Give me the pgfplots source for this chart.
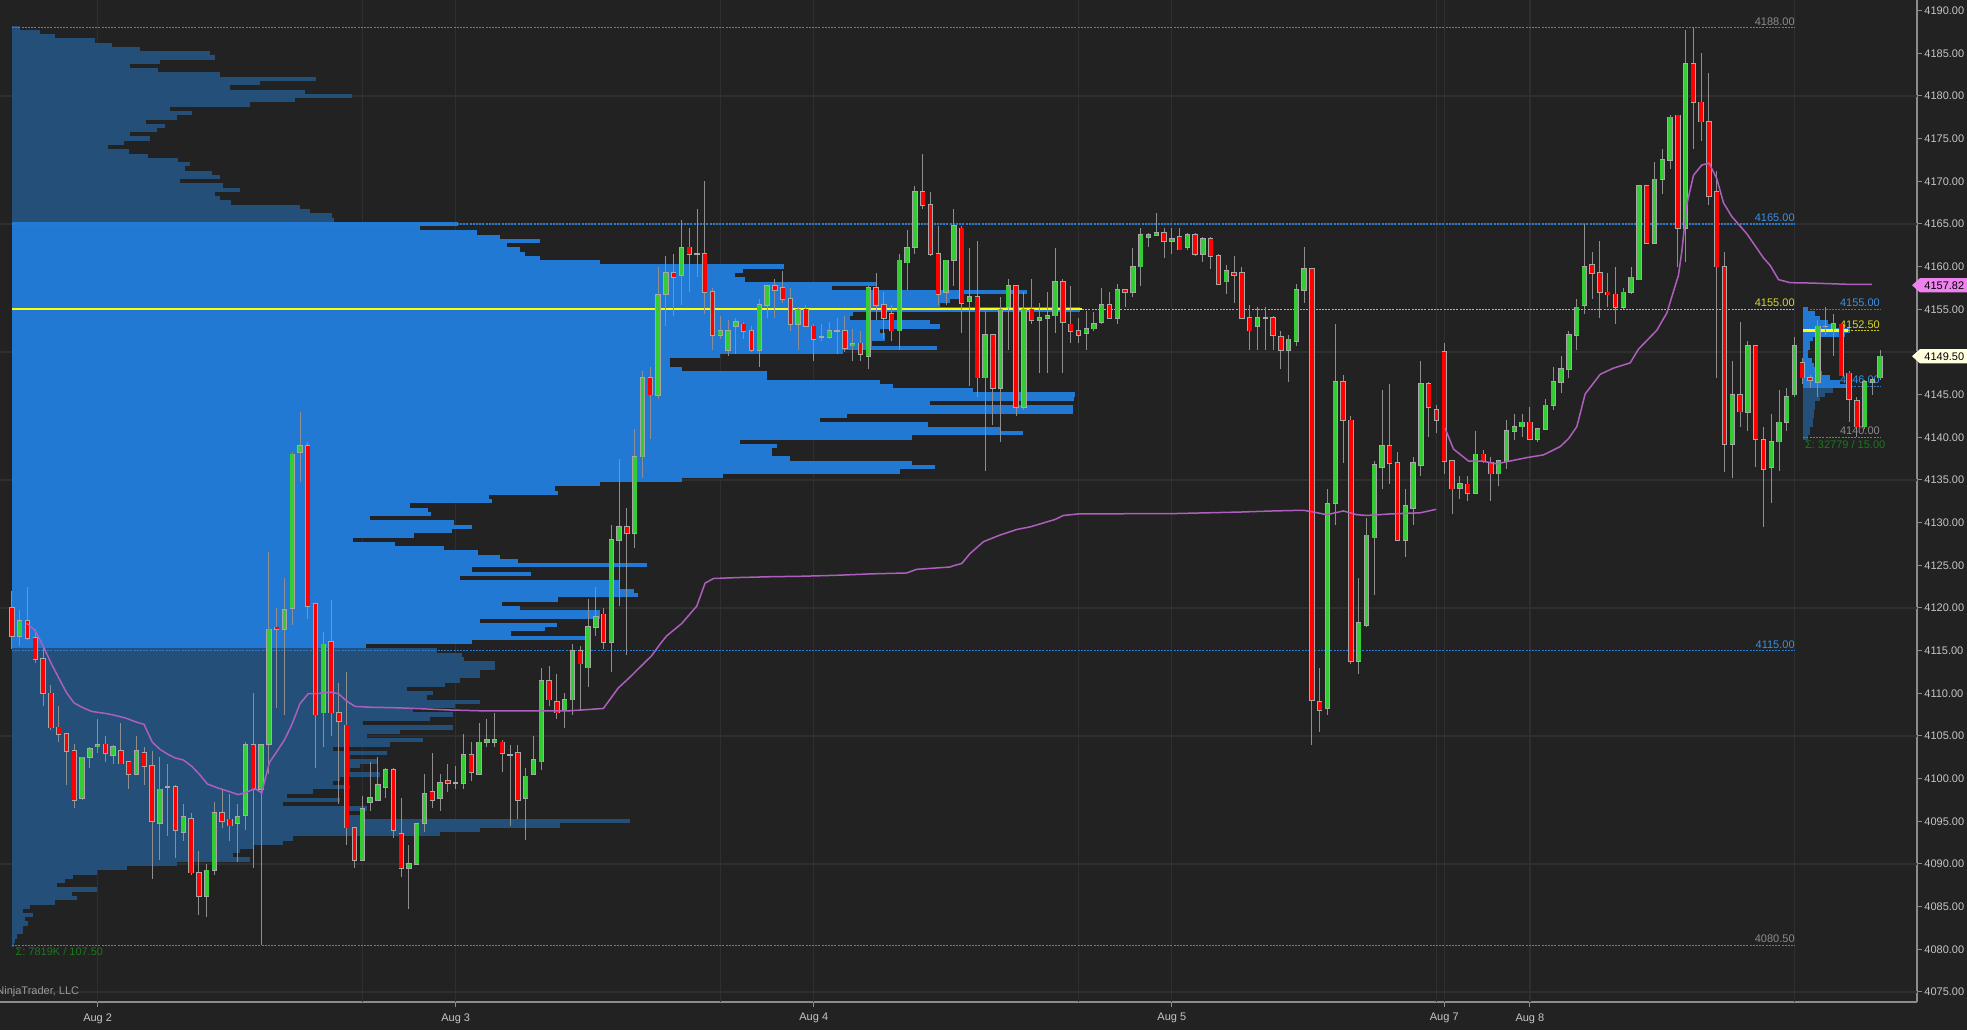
\documentclass[border=0pt]{standalone}
\usepackage{fontspec}
\setmainfont{Liberation Sans}
\usepackage{pgfplots}
\usepackage{pgfplotstable}
\pgfplotsset{compat=1.18}

\definecolor{bgc}{HTML}{222222}
\definecolor{gridc}{HTML}{2F2F2F}
\definecolor{axisc}{HTML}{8C8C8C}
\definecolor{axtext}{HTML}{C6C6C6}
\definecolor{profbright}{HTML}{2179D3}
\definecolor{profdark}{HTML}{234F79}
\definecolor{wickc}{HTML}{8E8E8E}
\definecolor{outlc}{HTML}{A8A8A8}
\definecolor{candleup}{HTML}{34CC34}
\definecolor{candledn}{HTML}{FF0000}
\definecolor{vwapc}{HTML}{AE5FBE}
\definecolor{pocc}{HTML}{FFFF00}
\definecolor{ylab}{HTML}{D8D82A}
\definecolor{ydot}{HTML}{C8C810}
\definecolor{bluel}{HTML}{2A7CD2}
\definecolor{bluelab}{HTML}{3B8FE4}
\definecolor{grayl}{HTML}{7A7A7A}
\definecolor{graylab}{HTML}{8C8C8C}
\definecolor{sigc}{HTML}{1C781C}
\definecolor{pinkm}{HTML}{EE82EE}
\definecolor{creamm}{HTML}{FFFFE0}
\definecolor{ninja}{HTML}{9A9A9A}

\newcommand{\lblfont}{\fontsize{5.5pt}{6.5pt}\selectfont}

% 30-minute OHLC bars (index, open, high, low, close)
\pgfplotstableread{
i o h l c
0 4120 4122 4115.25 4116.75
1 4116.75 4119.75 4115.5 4118.5
2 4118.5 4122.5 4116.25 4116.5
3 4116.5 4117.5 4113.5 4114
4 4114 4115.5 4108.5 4110
5 4110 4111 4105.75 4106
6 4106 4108.5 4104.25 4105.25
7 4105.25 4105.25 4099.25 4103.25
8 4103.25 4104 4096.5 4097.5
9 4097.75 4102.5 4097.5 4102.5
10 4102.5 4103.75 4101.25 4103.5
11 4103.75 4107 4103 4104
12 4104 4105 4102 4103
13 4102.75 4104 4101.75 4103.75
14 4103.25 4106.5 4101.75 4101.75
15 4102 4102 4098.75 4100.5
16 4100.5 4105 4100.5 4103.25
17 4103 4103.75 4099.25 4101.5
18 4101.5 4103.25 4088.25 4095
19 4094.75 4102.5 4090.5 4098.75
20 4099 4101.75 4093.25 4099
21 4099 4099.25 4090.75 4094
22 4093.75 4097 4092.75 4095.5
23 4095.25 4096 4088.75 4089
24 4089 4091.5 4084 4086.25
25 4086.25 4090 4083.75 4089.25
26 4089.25 4097.25 4088.75 4096
27 4096 4098.75 4094.25 4095
28 4095.25 4098.25 4092.75 4094.5
29 4094.75 4097 4090.25 4095.5
30 4095.75 4104.25 4094 4104
31 4104 4110 4089.5 4098.75
32 4098.75 4104 4080.5 4104
33 4104 4126.5 4100.5 4117.5
34 4117.75 4120 4108.25 4117.5
35 4117.5 4123.5 4107.5 4119.75
36 4120 4138.25 4118 4138
37 4138.25 4143 4134.75 4139
38 4139 4139.5 4118.75 4120.25
39 4120.5 4120.5 4101.25 4107.5
40 4107.75 4117.25 4103.75 4115.75
41 4116 4121 4105 4107.75
42 4107.75 4111.25 4097 4106.75
43 4106.25 4112.5 4092.25 4094.25
44 4094.25 4094.25 4089.5 4090.5
45 4090.5 4098 4090.5 4096.5
46 4097.25 4102 4096.25 4097.75
47 4097.5 4102.5 4097.5 4099.25
48 4099 4101.25 4097.75 4101
49 4101 4101.25 4093 4094
50 4093.5 4097.75 4088.5 4089.5
51 4089.5 4092.25 4084.75 4090
52 4090 4094.75 4090 4094.75
53 4094.75 4100.5 4093.75 4098.25
54 4098.5 4103 4096.5 4097.5
55 4097.75 4100.5 4096.25 4099.5
56 4099.75 4101.75 4098.5 4099.5
57 4099.5 4101.5 4098.75 4099.5
58 4099.5 4105.25 4098.75 4102.75
59 4102.75 4104.25 4099.75 4100.75
60 4100.5 4106.5 4100.5 4104.25
61 4104.25 4107 4103.75 4104.5
62 4104.25 4107.75 4103.75 4104.5
63 4104.25 4104.5 4100.75 4103
64 4102.75 4104 4094.5 4102.75
65 4103 4104 4095.25 4097.5
66 4097.75 4101.25 4092.75 4100.25
67 4100.5 4105 4100.5 4102.25
68 4102 4113 4101 4111.5
69 4111.5 4113.25 4108.5 4109.25
70 4109 4112.25 4107 4107.75
71 4108 4110 4106 4109.25
72 4109.25 4115.75 4107.5 4115
73 4115 4115.5 4108 4113.5
74 4113 4121 4110.75 4117.75
75 4117.75 4122.5 4116.75 4119
76 4119.25 4120 4115.25 4116
77 4116 4129.75 4112.5 4128
78 4128 4137.5 4120.25 4129.5
79 4129.5 4131.75 4114.5 4128.75
80 4128.75 4141 4127 4137.75
81 4137.75 4147.75 4135.25 4147
82 4147 4148.25 4139.75 4145
83 4145 4160 4144.5 4156.75
84 4156.75 4161.25 4153 4159.25
85 4159.25 4161.5 4154.25 4158.75
86 4159 4165.5 4155.5 4162.25
87 4162.25 4164.5 4157 4161.5
88 4161.5 4166.75 4158.75 4161.5
89 4161.5 4170 4154.5 4157
90 4157 4157.5 4150.25 4152
91 4152 4154.25 4151.5 4152.5
92 4150.25 4153.75 4149.5 4152.5
93 4153 4154 4149.75 4153.5
94 4153.25 4153.5 4151.5 4152.5
95 4152.5 4153 4150 4150.25
96 4150.25 4156.25 4148.25 4155.5
97 4155.5 4157.75 4154 4157.75
98 4157.75 4158.5 4154 4157.25
99 4157.5 4159.5 4155.75 4156.25
100 4156.25 4157.5 4152.5 4153.25
101 4153.25 4155.25 4150.25 4155
102 4155 4155.5 4153 4153
103 4153 4153.25 4149 4151.5
104 4151.75 4153.25 4151.25 4151.75
105 4151.75 4153.5 4151.5 4152.5
106 4152.5 4154 4149.75 4152.5
107 4152.5 4154.25 4150 4150.5
108 4150.75 4152.75 4149 4151
109 4151 4152.5 4149 4149.75
110 4149.5 4157.75 4148 4157.5
111 4157.5 4159.25 4153.75 4155.5
112 4155.5 4157 4151.5 4154
113 4154.5 4155.5 4151.25 4152.5
114 4152.5 4161.5 4150.25 4160.75
115 4160.5 4164.25 4157.25 4162.25
116 4162.25 4169.5 4161.5 4168.75
117 4168.75 4173.25 4166.75 4167.25
118 4167.25 4168.75 4161.25 4161.5
119 4161.5 4164.75 4155.5 4156.75
120 4157 4160.75 4155.5 4160.75
121 4160.75 4166.75 4157.75 4164.75
122 4164.5 4164.75 4152.25 4155.75
123 4156 4162.25 4146 4156.5
124 4156.5 4163 4144.75 4147
125 4147 4154.75 4136 4152
126 4152 4152 4141.5 4145.75
127 4145.75 4156.5 4139.5 4155
128 4155.25 4158.5 4150.25 4157.75
129 4157.75 4157.75 4142.5 4143.5
130 4143.5 4157 4143.25 4155
131 4155 4158.5 4153.25 4153.75
132 4153.75 4155.75 4147.5 4154
133 4154 4157 4147.5 4154.25
134 4154.25 4162.25 4152.25 4158.25
135 4158.25 4158.5 4147.5 4153.5
136 4153.25 4157.75 4151 4152.5
137 4152.5 4154 4151 4152
138 4152.25 4154.75 4150.25 4152.75
139 4152.75 4154.75 4152.5 4153.25
140 4153.5 4157.5 4153.25 4155.5
141 4155.5 4157 4154 4154
142 4154 4158 4153.25 4157.25
143 4157.25 4157.25 4155.25 4157
144 4157 4162.25 4156.5 4160
145 4160 4164.5 4157.75 4163.75
146 4163.5 4164 4162.25 4163.75
147 4163.75 4166.25 4163.75 4164
148 4164 4164.5 4161 4163
149 4163 4164.5 4161.5 4163.25
150 4163.5 4164.5 4162 4162
151 4162.25 4164 4162 4163.75
152 4163.75 4164 4161.25 4161.5
153 4161.5 4163.5 4160.5 4163.25
154 4163.25 4163.5 4159.75 4161.25
155 4161.25 4161.5 4158 4158
156 4158.25 4160.25 4156.75 4159.5
157 4159.25 4161.25 4155.75 4159
158 4159.25 4160 4154 4154
159 4154 4155.5 4150.25 4152.5
160 4153 4155.25 4150.25 4154
161 4154 4155.25 4150.25 4154
162 4154 4154.25 4150.25 4152
163 4151.75 4152.5 4148 4150.25
164 4150.25 4152 4146.5 4151.5
165 4151.25 4158 4150.75 4157.25
166 4157.25 4162.25 4155.75 4159.75
167 4159.75 4159.75 4104 4109.25
168 4109 4113 4105.5 4108
169 4108.25 4134 4107.5 4132.25
170 4132.25 4153.25 4129.75 4146.5
171 4146.5 4147.25 4137 4142
172 4142 4142.5 4113.5 4113.75
173 4113.75 4123.5 4112.25 4118.25
174 4118 4130.5 4117.75 4128.5
175 4128.25 4137.25 4121.5 4136.75
176 4136.5 4145.5 4134 4139
177 4139 4146.25 4134.5 4137
178 4137 4138.25 4128 4128
179 4128 4134 4126 4132
180 4131.75 4137.75 4129.75 4137
181 4136.75 4149 4135.5 4146.25
182 4146.25 4146.5 4140 4143.5
183 4143.25 4143.75 4140.5 4142
184 4150 4151 4135.75 4137.25
185 4137.25 4137.25 4131 4134
186 4134 4135.5 4132.75 4134.5
187 4134.5 4135.5 4132.5 4133.5
188 4133.5 4140.75 4133.5 4138
189 4138 4138.5 4137 4137.25
190 4137 4137.75 4132.5 4135.75
191 4135.75 4137.25 4134.25 4137.25
192 4137.25 4142 4136.25 4140.75
193 4140.75 4142.75 4139.75 4141.25
194 4141.25 4142.75 4140 4141.75
195 4141.75 4143.5 4139.75 4139.75
196 4139.75 4141 4139.5 4141
197 4141 4144.5 4141 4143.75
198 4143.75 4148.25 4143.25 4146.5
199 4146.5 4149.5 4145.25 4148
200 4148 4152.5 4147 4152
201 4152 4156.25 4150.25 4155.25
202 4155.5 4165 4154.5 4160
203 4160.25 4161.75 4156.25 4159.25
204 4159.25 4163 4154 4157
205 4157 4159.25 4155.25 4156.75
206 4156.75 4160 4153.25 4155.25
207 4155.25 4157.5 4155 4157
208 4157 4160 4156.75 4158.75
209 4158.5 4169.5 4158.5 4169.5
210 4169.5 4169.5 4162.75 4162.75
211 4162.75 4172.25 4162.75 4170.25
212 4170.25 4173.75 4168.5 4172.5
213 4172.5 4177.75 4171.5 4177.5
214 4177.75 4177.75 4160 4164.5
215 4164.5 4187.75 4160.5 4183.75
216 4183.75 4188 4173.75 4179.25
217 4179.25 4185 4174.75 4177
218 4177 4182.75 4167.25 4168.25
219 4168.75 4171.25 4147 4160
220 4160 4161.75 4136 4139.25
221 4139.25 4149 4135.25 4145
222 4145 4153.5 4141.25 4143
223 4143 4151.25 4140.75 4150.75
224 4150.75 4150.75 4136.5 4139.75
225 4139.75 4141.25 4129.5 4136.25
226 4136.5 4142.75 4132.25 4139.5
227 4139.5 4145.5 4136 4141.75
228 4141.75 4145.75 4140.75 4144.75
229 4145 4151.75 4144.75 4150.75
230 4148.75 4149.25 4146.25 4147
231 4147 4147.25 4145.75 4146.75
232 4146.5 4153.75 4144.75 4153
233 4153 4155.25 4152 4153
234 4152.75 4154.5 4149.5 4153.25
235 4153.25 4153.25 4147.25 4147.25
236 4147.5 4147.75 4141.75 4144.5
237 4144.25 4144.75 4140 4141.25
238 4141.25 4146.75 4141 4146.5
239 4146.5 4147 4145 4146.75
240 4147 4150.25 4146.75 4149.5
}\candles

% composite volume profile (price, bar length)
\pgfplotstableread{
p len
4188.0 8
4187.5 28
4187.0 43
4186.5 83
4186.0 100
4185.5 128
4185.0 198
4184.5 203
4184.0 148
4183.5 118
4183.0 146
4182.5 208
4182.0 304
4181.5 248
4181.0 218
4180.5 293
4180.0 340
4179.5 283
4179.0 238
4178.5 158
4178.0 180
4177.5 165
4177.0 134
4176.5 153
4176.0 145
4175.5 118
4175.0 138
4174.5 112
4174.0 96
4173.5 117
4173.0 136
4172.5 166
4172.0 178
4171.5 173
4171.0 200
4170.5 208
4170.0 168
4169.5 211
4169.0 228
4168.5 203
4168.0 208
4167.5 219
4167.0 288
4166.5 298
4166.0 320
4165.5 322
4165.0 446
4164.5 408
4164.0 465
4163.5 488
4163.0 528
4162.5 495
4162.0 508
4161.5 513
4161.0 528
4160.5 588
4160.0 772
4159.5 731
4159.0 723
4158.5 733
4158.0 865
4157.5 820
4157.0 1015
4156.5 950
4156.0 938
4155.5 928
4155.0 1068
4154.5 841
4154.0 838
4153.5 918
4153.0 928
4152.5 868
4152.0 873
4151.5 873
4151.0 860
4150.5 925
4150.0 831
4149.5 708
4149.0 658
4148.5 658
4148.0 670
4147.5 755
4147.0 755
4146.5 868
4146.0 881
4145.5 961
4145.0 1063
4144.5 1062
4144.0 918
4143.5 1061
4143.0 1061
4142.5 835
4142.0 808
4141.5 916
4141.0 988
4140.5 1011
4140.0 900
4139.5 728
4139.0 765
4138.5 760
4138.0 760
4137.5 778
4137.0 900
4136.5 923
4136.0 888
4135.5 711
4135.0 670
4134.5 588
4134.0 543
4133.5 546
4133.0 477
4132.5 480
4132.0 398
4131.5 416
4131.0 419
4130.5 358
4130.0 442
4129.5 460
4129.0 440
4128.5 402
4128.0 341
4127.5 383
4127.0 432
4126.5 466
4126.0 488
4125.5 506
4125.0 635
4124.5 460
4124.0 519
4123.5 448
4123.0 608
4122.5 608
4122.0 622
4121.5 626
4121.0 546
4120.5 490
4120.0 508
4119.5 588
4119.0 588
4118.5 468
4118.0 545
4117.5 533
4117.0 499
4116.5 573
4116.0 460
4115.5 354
4115.0 425
4114.5 450
4114.0 452
4113.5 483
4113.0 483
4112.5 468
4112.0 468
4111.5 448
4111.0 433
4110.5 395
4110.0 421
4109.5 415
4109.0 468
4108.5 443
4108.0 401
4107.5 441
4107.0 418
4106.5 351
4106.0 441
4105.5 388
4105.0 355
4104.5 411
4104.0 378
4103.5 321
4103.0 375
4102.5 338
4102.0 365
4101.5 348
4101.0 338
4100.5 368
4100.0 328
4099.5 321
4099.0 338
4098.5 301
4098.0 275
4097.5 328
4097.0 271
4096.5 355
4096.0 335
4095.5 348
4095.0 618
4094.5 548
4094.0 468
4093.5 428
4093.0 281
4092.5 271
4092.0 241
4091.5 228
4091.0 221
4090.5 238
4090.0 165
4089.5 115
4089.0 85
4088.5 61
4088.0 53
4087.5 45
4087.0 85
4086.5 60
4086.0 65
4085.5 43
4085.0 18
4084.5 11
4084.0 21
4083.5 13
4083.0 16
4082.5 11
4082.0 11
4081.5 5
4081.0 3
4080.5 2
}\bigprof

% last-session volume profile
\pgfplotstableread{
p len
4155.0 5
4154.5 12
4154.0 17
4153.5 25
4153.0 32
4152.5 47
4152.0 42
4151.5 10
4151.0 7
4150.5 7
4150.0 5
4149.5 5
4149.0 9
4148.5 11
4148.0 15
4147.5 19
4147.0 27
4146.5 37
4146.0 43
4145.5 30
4145.0 22
4144.5 17
4144.0 12
4143.5 12
4143.0 11
4142.5 11
4142.0 10
4141.5 10
4141.0 7
4140.5 7
4140.0 5
}\smallprof

\pgfplotstableread{
i p
1.88 4118.21
2.96 4117.37
4.03 4115.49
5.10 4113.39
6.17 4111.51
7.02 4110.05
7.97 4108.87
9.16 4108.29
10.24 4107.87
12.16 4107.62
13.23 4107.41
14.52 4107.12
16.02 4106.61
16.96 4106.36
18.03 4104.27
19.01 4103.43
20.09 4102.81
20.94 4102.43
22.01 4102.18
23.08 4101.46
24.16 4100.42
25.10 4099.37
26.30 4098.95
28.01 4098.45
29.08 4098.12
30.15 4098.41
31.22 4098.83
32.08 4098.33
33.06 4101.88
34.00 4103.14
34.99 4104.52
35.93 4106.28
37.00 4108.79
38.07 4109.96
39.14 4109.96
40.86 4110.13
41.93 4109.96
43.00 4109.08
44.07 4108.46
46.00 4108.37
49.85 4108.29
53.28 4108.16
56.27 4108.04
60.13 4107.95
63.13 4107.95
67.41 4107.95
71.69 4107.95
75.97 4108.22
77.90 4110.64
79.19 4111.72
80.69 4113.07
82.18 4114.41
83.25 4115.76
84.11 4116.73
86.04 4118.18
87.97 4120.22
89.04 4122.91
90.11 4123.45
93.10 4123.56
97.39 4123.66
101.67 4123.72
105.95 4123.83
110.23 4123.99
114.94 4124.10
116.23 4124.53
120.51 4124.80
120.94 4124.95
122.01 4125.21
123.08 4126.38
124.80 4127.77
126.94 4128.55
129.08 4129.20
130.79 4129.50
132.08 4129.85
134.00 4130.37
135.07 4130.84
137.00 4131.02
140.64 4131.02
144.93 4131.06
149.21 4131.06
153.49 4131.15
157.77 4131.24
162.06 4131.37
165.91 4131.45
166.98 4131.28
168.91 4130.93
171.05 4131.37
172.76 4130.93
174.05 4130.84
177.04 4131.02
180.90 4131.15
182.96 4131.56
}\vwapa

\pgfplotstableread{
i p
184.11 4141.05
185.18 4138.63
187.11 4137.22
188.82 4137.22
190.75 4136.89
192.46 4137.22
194.60 4137.62
196.75 4137.94
198.89 4138.91
199.96 4139.84
201.03 4141.25
202.10 4145.08
204.03 4147.38
205.74 4148.11
207.88 4148.72
208.95 4150.33
211.31 4152.55
212.59 4154.57
214.09 4159.01
214.52 4161.83
215.16 4167.30
216.02 4170.71
217.09 4171.92
218.03 4172.12
219.01 4170.31
219.87 4167.48
220.94 4165.87
222.87 4163.85
225.01 4161.02
225.87 4160.14
226.94 4158.48
228.44 4158.12
231.01 4158.08
233.58 4158.00
236.15 4157.92
238.94 4157.92
}\vwapb

\begin{document}
\begin{tikzpicture}
\useasboundingbox (0,0) rectangle (983.5pt,515pt);
\fill[bgc] (0,0) rectangle (983.5pt,515pt);
\begin{axis}[
  at={(0pt,14pt)}, anchor=south west,
  width=958.5pt, height=501pt, scale only axis,
  xmin=-1.5416, xmax=244.73, ymin=4073.82, ymax=4191.25,
  clip mode=individual,
  axis x line*=bottom, axis y line*=right,
  axis line style={-, draw=axisc, line width=0.8pt},
  ytick={4075,4080,4085,4090,4095,4100,4105,4110,4115,4120,4125,4130,4135,4140,4145,4155,4160,4165,4170,4175,4180,4185,4190},
  xtick={11,57,103,149,184,195},
  xticklabels={Aug 2,Aug 3,Aug 4,Aug 5,Aug 7,Aug 8},
  scaled y ticks=false,
  tick align=outside,
  major tick length=2.5pt,
  tick style={draw=axisc, line width=0.5pt},
  ticklabel style={font=\lblfont, text=axtext},
  /pgf/number format/assume math mode=true,
  yticklabel style={/pgf/number format/fixed, /pgf/number format/fixed zerofill,
     /pgf/number format/precision=2, /pgf/number format/1000 sep={}, inner sep=1pt},
  xticklabel style={inner sep=1pt, yshift=-2pt},
  extra y ticks={4075,4090,4105,4120,4135,4150,4165,4180},
  extra y tick labels={},
  extra y tick style={grid=major, major tick length=0pt, major grid style={draw=gridc, line width=0.6pt}},
  extra x ticks={11,45,57,91,103,137,149,183,184,195,229},
  extra x tick labels={},
  extra x tick style={grid=major, major tick length=0pt, major grid style={draw=gridc, line width=0.6pt}},
]
% composite profile
\addplot[draw=none, forget plot, restrict y to domain=4165.25:4200,
  error bars/.cd, x dir=both, x explicit, error mark=none,
  error bar style={draw=profdark, line width=2.2pt}]
  table[x expr={\thisrow{len}/15.568}, y=p, x error expr={\thisrow{len}/15.568}] \bigprof;
\addplot[draw=none, forget plot, restrict y to domain=4115.25:4165.25,
  error bars/.cd, x dir=both, x explicit, error mark=none,
  error bar style={draw=profbright, line width=2.2pt}]
  table[x expr={\thisrow{len}/15.568}, y=p, x error expr={\thisrow{len}/15.568}] \bigprof;
\addplot[draw=none, forget plot, restrict y to domain=4000:4115.25,
  error bars/.cd, x dir=both, x explicit, error mark=none,
  error bar style={draw=profdark, line width=2.2pt}]
  table[x expr={\thisrow{len}/15.568}, y=p, x error expr={\thisrow{len}/15.568}] \bigprof;
% session profile
\addplot[draw=none, forget plot, restrict y to domain=4145.75:4160,
  error bars/.cd, x dir=both, x explicit, error mark=none,
  error bar style={draw=profbright, line width=2.2pt}]
  table[x expr={230.1+\thisrow{len}/15.568}, y=p, x error expr={\thisrow{len}/15.568}] \smallprof;
\addplot[draw=none, forget plot, restrict y to domain=4130:4145.75,
  error bars/.cd, x dir=both, x explicit, error mark=none,
  error bar style={draw=profdark, line width=2.2pt}]
  table[x expr={230.1+\thisrow{len}/15.568}, y=p, x error expr={\thisrow{len}/15.568}] \smallprof;

% profile levels
\addplot[grayl, line width=0.5pt, dash pattern=on 1pt off 0.6pt] coordinates {(0,4188) (229.06,4188)};
\addplot[bluel, line width=0.6pt, dash pattern=on 1pt off 0.6pt] coordinates {(0,4165) (229.06,4165)};
\addplot[pocc, line width=1.1pt] coordinates {(0,4155) (137.46,4155)};
\addplot[ydot, line width=0.6pt, dash pattern=on 1pt off 0.6pt] coordinates {(137.46,4155) (229.06,4155)};
\addplot[bluel, line width=0.6pt, dash pattern=on 1pt off 0.6pt] coordinates {(0,4115) (229.06,4115)};
\addplot[grayl, line width=0.5pt, dash pattern=on 1pt off 0.6pt] coordinates {(0,4080.5) (229.06,4080.5)};
\addplot[bluel, line width=0.6pt, dash pattern=on 1pt off 0.6pt] coordinates {(230.1,4155) (240.0,4155)};
\addplot[pocc, line width=1.2pt] coordinates {(230.1,4152.5) (235.9,4152.5)};
\addplot[ydot, line width=0.6pt, dash pattern=on 1pt off 0.6pt] coordinates {(235.9,4152.5) (240.0,4152.5)};
\addplot[bluel, line width=0.6pt, dash pattern=on 1pt off 0.6pt] coordinates {(230.1,4146) (240.0,4146)};
\addplot[grayl, line width=0.5pt, dash pattern=on 1pt off 0.6pt] coordinates {(230.1,4140) (240.0,4140)};

\begin{scope}[every node/.style={font=\lblfont, inner sep=0pt, anchor=south east, yshift=1pt}]
\node[text=graylab] at (axis cs:229.06,4188) {4188.00};
\node[text=bluelab] at (axis cs:229.06,4165) {4165.00};
\node[text=ylab] at (axis cs:229.06,4155) {4155.00};
\node[text=bluelab] at (axis cs:229.06,4115) {4115.00};
\node[text=graylab] at (axis cs:229.06,4080.5) {4080.50};
\node[text=bluelab] at (axis cs:240.0,4155) {4155.00};
\node[text=ylab] at (axis cs:240.0,4152.5) {4152.50};
\node[text=bluelab] at (axis cs:240.0,4146) {4146.00};
\node[text=graylab] at (axis cs:240.0,4140) {4140.00};
\end{scope}
\node[font=\lblfont, inner sep=0pt, anchor=north west, text=sigc, yshift=-1.2pt] at (axis cs:0.4,4080.5) {Σ: 7819K / 107.50};
\node[font=\lblfont, inner sep=0pt, anchor=north west, text=sigc, yshift=-1.2pt] at (axis cs:230.3,4140) {Σ: 32779 / 15.00};

% candles: wicks
\addplot[draw=none, forget plot,
  error bars/.cd, y dir=both, y explicit, error mark=none,
  error bar style={draw=wickc, line width=0.5pt}]
  table[x=i, y expr={(\thisrow{h}+\thisrow{l})/2}, y error expr={(\thisrow{h}-\thisrow{l})/2}] \candles;
% body outlines
\addplot[draw=none, forget plot,
  error bars/.cd, y dir=both, y explicit, error mark=none,
  error bar style={draw=outlc, line width=2.7pt}]
  table[x=i, y expr={(\thisrow{o}+\thisrow{c})/2}, y error expr={abs(\thisrow{o}-\thisrow{c})/2+0.09}] \candles;
% up bodies (zero length when the bar closed lower)
\addplot[draw=none, forget plot,
  error bars/.cd, y dir=both, y explicit, error mark=none,
  error bar style={draw=candleup, line width=1.9pt}]
  table[x=i, y expr={(\thisrow{o}+\thisrow{c})/2}, y error expr={max(\thisrow{c}-\thisrow{o},0)/2}] \candles;
% down bodies (zero length when the bar closed higher)
\addplot[draw=none, forget plot,
  error bars/.cd, y dir=both, y explicit, error mark=none,
  error bar style={draw=candledn, line width=1.9pt}]
  table[x=i, y expr={(\thisrow{o}+\thisrow{c})/2}, y error expr={max(\thisrow{o}-\thisrow{c},0)/2}] \candles;

% VWAP
\addplot[vwapc, line width=0.75pt] table[x=i, y=p] \vwapa;
\addplot[vwapc, line width=0.75pt] table[x=i, y=p] \vwapb;

\coordinate (pm) at (axis cs:244.73,4157.82);
\coordinate (cm) at (axis cs:244.73,4149.5);
\end{axis}
% price markers
\fill[pinkm] ([xshift=-2.5pt]pm) -- ([xshift=1.5pt,yshift=3.6pt]pm) -- ([xshift=25pt,yshift=3.6pt]pm) -- ([xshift=25pt,yshift=-3.6pt]pm) -- ([xshift=1.5pt,yshift=-3.6pt]pm) -- cycle;
\node[anchor=east, inner sep=0pt, font=\lblfont, text=black] at ([xshift=23.8pt]pm) {4157.82};
\fill[creamm] ([xshift=-2.5pt]cm) -- ([xshift=1.5pt,yshift=3.6pt]cm) -- ([xshift=25pt,yshift=3.6pt]cm) -- ([xshift=25pt,yshift=-3.6pt]cm) -- ([xshift=1.5pt,yshift=-3.6pt]cm) -- cycle;
\node[anchor=east, inner sep=0pt, font=\lblfont, text=black] at ([xshift=23.8pt]cm) {4149.50};
\node[anchor=west, inner sep=0pt, font=\lblfont, text=ninja] at (-2pt,19pt) {NinjaTrader, LLC};
\end{tikzpicture}
\end{document}
